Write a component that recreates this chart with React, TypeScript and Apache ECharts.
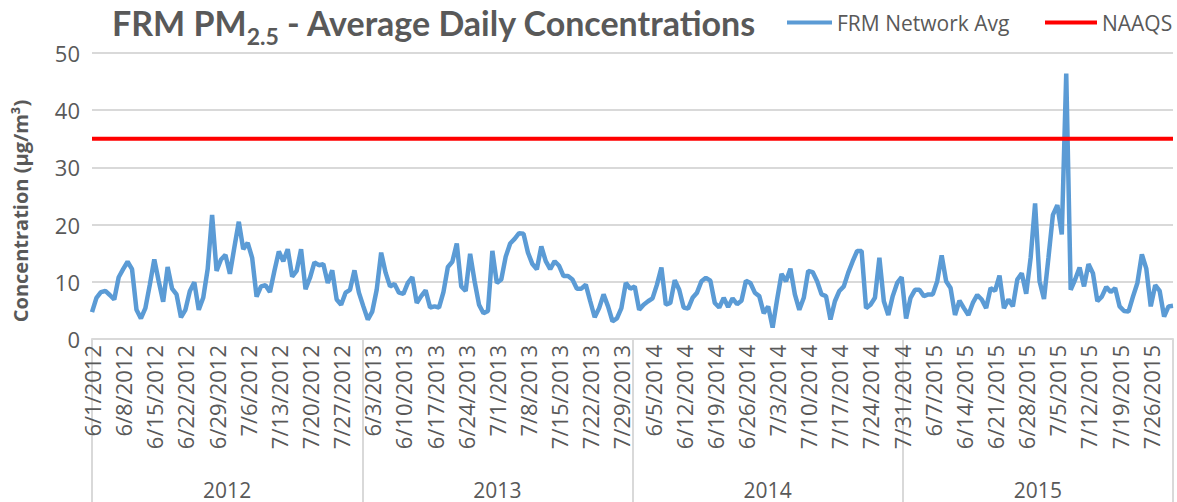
import React, { useEffect, useRef } from "react";
import * as echarts from "echarts";

const years = ["2012", "2013", "2014", "2015"];

const avg2012 = [
  4.7, 7.2, 8.2, 8.4, 7.7, 6.9, 10.8, 12.2, 13.5, 12.2, 5.1, 3.6, 5.4, 9.5, 13.9, 10.1, 6.5, 12.6, 8.8, 7.8,
  3.8, 5.1, 8.4, 9.9, 5.1, 7.2, 12.2, 21.7, 11.9, 13.9, 14.7, 11.4, 16.0, 20.5, 15.7, 16.8, 14.2, 7.4, 9.2, 9.4,
  8.2, 11.9, 15.3, 13.6, 15.7, 10.9, 11.9, 15.7, 8.7, 10.7, 13.4, 12.9, 13.1, 9.8, 12.0, 6.9, 6.0, 8.1, 8.6, 12.0,
  8.1,
];
const avg2013 = [
  5.7, 3.4, 4.8, 8.6, 15.1, 11.6, 9.2, 9.6, 8.1, 7.9, 9.8, 10.8, 6.3, 7.5, 8.5, 5.5, 5.7, 5.5, 8.2, 12.6,
  13.5, 16.7, 9.2, 8.4, 14.9, 10.1, 6.0, 4.5, 4.9, 15.4, 9.8, 10.4, 14.4, 16.7, 17.5, 18.5, 18.4, 15.1, 13.1, 12.2,
  16.2, 13.6, 12.2, 13.6, 12.8, 11.0, 11.0, 10.4, 8.8, 8.8, 9.5, 6.6, 3.8, 5.4, 7.8, 5.7, 3.1, 3.6, 5.4, 9.8,
  8.8,
];
const avg2014 = [
  9.2, 5.1, 6.0, 6.6, 7.1, 9.5, 12.5, 6.0, 6.3, 10.3, 8.6, 5.5, 5.3, 7.2, 8.1, 10.1, 10.7, 10.2, 6.3, 5.5,
  7.2, 5.6, 7.1, 6.1, 6.7, 10.2, 9.8, 8.1, 7.5, 4.5, 5.7, 2.0, 6.9, 11.4, 10.1, 12.3, 7.8, 5.1, 7.2, 11.9,
  11.7, 10.1, 7.8, 7.5, 3.4, 6.6, 8.4, 9.2, 11.6, 13.6, 15.4, 15.4, 5.4, 6.0, 7.2, 14.2, 6.6, 4.2, 7.5, 9.8,
  10.8,
];
const avg2015 = [
  3.6, 7.2, 8.6, 8.6, 7.5, 7.8, 7.8, 10.1, 14.6, 10.1, 8.9, 4.2, 6.7, 5.4, 4.2, 6.3, 7.7, 6.9, 5.4, 8.9,
  8.4, 11.1, 5.4, 6.9, 5.7, 10.4, 11.5, 7.9, 14.2, 23.7, 10.1, 7.0, 14.2, 21.7, 23.4, 18.3, 46.4, 8.6, 10.4, 12.5,
  9.2, 13.1, 11.5, 6.6, 7.4, 9.1, 8.2, 8.9, 5.7, 4.9, 4.8, 7.4, 9.8, 14.8, 12.3, 5.7, 9.4, 8.4, 3.9, 5.7,
  5.8,
];
const NAAQS_LEVEL = 35;
const yTicks = { min: 0, max: 50, interval: 10 };

// categories: June 1 .. July 31 of each year
const monthDays: [number, number][] = [
  [6, 30],
  [7, 31],
];
const dates: string[] = [];
years.forEach((y) => {
  monthDays.forEach(([m, n]) => {
    for (let d = 1; d <= n; d++) dates.push(`${m}/${d}/${y}`);
  });
});
const avg = [...avg2012, ...avg2013, ...avg2014, ...avg2015];
const naaqs = dates.map(() => NAAQS_LEVEL);

const FONT = "'Open Sans', 'Liberation Sans', sans-serif";
const TFONT = "Lato, 'Open Sans', sans-serif";
const GREY = "#595959";
const GRID = "#D9D9D9";

export default function App() {
  const ref = useRef<HTMLDivElement>(null);
  useEffect(() => {
    document.body.style.margin = "0";
    const chart = echarts.init(ref.current!, null, { renderer: "svg" });
    chart.setOption({
      animation: false,
      textStyle: { fontFamily: FONT },
      title: {
        left: 112,
        top: 5,
        padding: 0,
        text: "{a|FRM PM}{s|2.5}{a| - Average Daily Concentrations}",
        textStyle: {
          rich: {
            a: { fontSize: 34, fontWeight: "bold", color: GREY, fontFamily: TFONT, lineHeight: 40, verticalAlign: "top" },
            s: { fontSize: 23, fontWeight: "bold", color: GREY, fontFamily: TFONT, lineHeight: 62, verticalAlign: "middle" },
          },
        },
      },
      graphic: [
        {
          type: "text",
          x: 20,
          y: 211,
          rotation: Math.PI / 2,
          style: {
            text: "Concentration (μg/m³)",
            fontSize: 20,
            fontWeight: "bold",
            fontFamily: FONT,
            fill: GREY,
            align: "center",
            verticalAlign: "middle",
          },
        },
      ],
      legend: [
        {
          data: ["FRM Network Avg"],
          left: 787,
          top: 12,
          padding: 0,
          icon: "rect",
          itemWidth: 45,
          itemHeight: 4,
          textStyle: { fontSize: 21, color: GREY, fontFamily: FONT },
        },
        {
          data: ["NAAQS"],
          left: 1045,
          top: 12,
          padding: 0,
          icon: "rect",
          itemWidth: 52,
          itemHeight: 4,
          textStyle: { fontSize: 21, color: GREY, fontFamily: FONT },
        },
      ],
      grid: { left: 92, right: 4, top: 53, bottom: 163 },
      xAxis: [
        {
          type: "category",
          data: dates,
          boundaryGap: false,
          position: "bottom",
          axisLine: { show: true, lineStyle: { color: GRID, width: 2 } },
          axisTick: { show: false },
          splitLine: { show: false },
          axisLabel: { rotate: 90, interval: 6, fontSize: 22, color: GREY, margin: 6, fontFamily: FONT },
        },
        {
          type: "category",
          data: years,
          boundaryGap: true,
          position: "bottom",
          axisLine: { show: false },
          axisTick: { show: true, length: 163, lineStyle: { color: GRID, width: 2 } },
          splitLine: { show: false },
          axisLabel: { fontSize: 21, color: GREY, margin: 140, fontFamily: FONT },
        },
      ],
      yAxis: {
        type: "value",
        min: yTicks.min,
        max: yTicks.max,
        interval: yTicks.interval,
        axisLine: { show: false },
        axisTick: { show: false },
        axisLabel: { fontSize: 22, color: GREY, margin: 12, fontFamily: FONT },
        splitLine: { lineStyle: { color: GRID, width: 2 } },
      },
      series: [
        {
          name: "FRM Network Avg",
          type: "line",
          data: avg,
          xAxisIndex: 0,
          symbol: "none",
          lineStyle: { color: "#5B9BD5", width: 4.5 },
          itemStyle: { color: "#5B9BD5" },
          z: 2,
        },
        {
          name: "NAAQS",
          type: "line",
          data: naaqs,
          xAxisIndex: 0,
          symbol: "none",
          lineStyle: { color: "#FF0000", width: 4 },
          itemStyle: { color: "#FF0000" },
          z: 3,
        },
      ],
    });
    return () => chart.dispose();
  }, []);
  return <div ref={ref} style={{ width: 1177, height: 502 }} />;
}
